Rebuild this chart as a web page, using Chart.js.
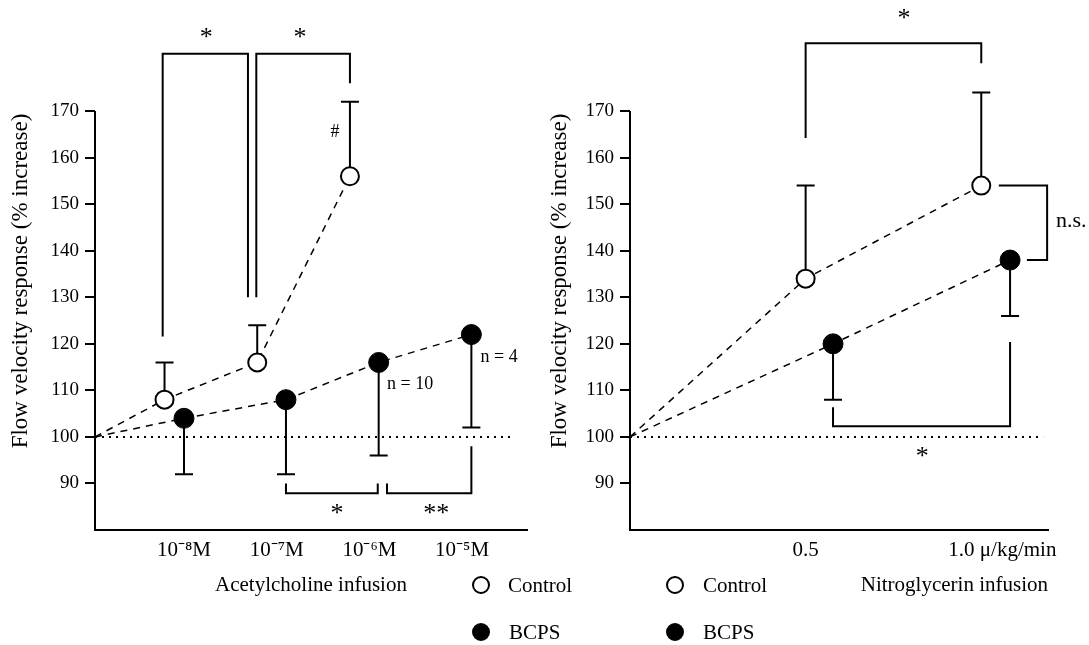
<!DOCTYPE html>
<html lang="en">
<head>
    <meta charset="UTF-8">
    <title>Flow velocity response</title>
    <script src="https://cdn.jsdelivr.net/npm/chart.js"></script>
    <style>
        body {
            margin: 0;
            background: #fff;
            font-family: 'Liberation Serif', 'Times New Roman', serif;
            color: #000;
        }
        .panel { position: absolute; top: 0; height: 645px; }
        #left-panel { left: 0; width: 540px; }
        #right-panel { left: 540px; width: 549px; }
        .key-dot {
            position: absolute;
            width: 18px;
            height: 18px;
            border-radius: 50%;
            box-sizing: border-box;
            border: 2px solid #000;
        }
        .key-dot.filled { background: #000; }
        .key-text {
            position: absolute;
            font-size: 21px;
            line-height: 21px;
            white-space: nowrap;
        }
    </style>
</head>
<body>
    <div class="panel" id="left-panel"><canvas id="achChart"></canvas></div>
    <div class="panel" id="right-panel"><canvas id="ntgChart"></canvas></div>

    <div class="key-dot" style="left:472px; top:576px;"></div>
    <div class="key-text" style="left:508px; top:575px;">Control</div>
    <div class="key-dot filled" style="left:472px; top:623px;"></div>
    <div class="key-text" style="left:509px; top:622px;">BCPS</div>

    <div class="key-dot" style="left:666px; top:576px;"></div>
    <div class="key-text" style="left:703px; top:575px;">Control</div>
    <div class="key-dot filled" style="left:666px; top:623px;"></div>
    <div class="key-text" style="left:703px; top:622px;">BCPS</div>

    <script>
        // ---- Acetylcholine panel ----
        const achTickPos = [1, 2, 3, 4];
        const achTickLabels = ['10\u207B\u2078M', '10\u207B\u2077M', '10\u207B\u2076M', '10\u207B\u2075M'];
        const achControlX = [0.04, 0.79, 1.79, 2.79];
        const achControlY = [100, 108, 116, 156];
        const achControlErr = [null, 116, 124, 172];
        const achBcpsX = [0.04, 1.0, 2.1, 3.1, 4.1];
        const achBcpsY = [100, 104, 108, 116, 122];
        const achBcpsErr = [null, 92, 92, 96, 102];
        const achBrackets = [
            [[0.77, 121.6], [0.77, 182.3], [1.69, 182.3], [1.69, 130]],
            [[1.78, 130], [1.78, 182.3], [2.79, 182.3], [2.79, 176]],
            [[2.1, 90], [2.1, 87.9], [3.09, 87.9], [3.09, 90]],
            [[3.19, 90], [3.19, 87.9], [4.1, 87.9], [4.1, 98]]
        ];
        const achNotes = [
            ['*', 1.24, 185.6], ['*', 2.25, 185.6], ['#', 2.63, 165.5],
            ['*', 2.65, 83.4], ['**', 3.72, 83.4],
            ['n = 10', 3.44, 111.4], ['n = 4', 4.4, 117.2]
        ];

        // ---- Nitroglycerin panel ----
        const ntgTickPos = [0.5, 1.06];
        const ntgTickLabels = ['0.5', '1.0 \u03BC/kg/min'];
        const ntgControlX = [0, 0.5, 1.0];
        const ntgControlY = [100, 134, 154];
        const ntgControlErr = [null, 154, 174];
        const ntgBcpsX = [0, 0.578, 1.082];
        const ntgBcpsY = [100, 120, 138];
        const ntgBcpsErr = [null, 108, 126];
        const ntgBrackets = [
            [[0.5, 164.2], [0.5, 184.6], [1.0, 184.6], [1.0, 180.3]],
            [[1.05, 154], [1.1875, 154], [1.1875, 138], [1.13, 138]],
            [[0.578, 106.4], [0.578, 102.3], [1.082, 102.3], [1.082, 120.4]]
        ];
        const ntgNotes = [['*', 0.78, 189.7], ['n.s.', 1.256, 146.3], ['*', 0.832, 95.7]];

        const yTicks = [90, 100, 110, 120, 130, 140, 150, 160, 170];
        const serif = "'Liberation Serif', 'Times New Roman', serif";
        const noteSize = { '*': 26, '**': 26, '#': 18, 'n.s.': 22 };

        const toPts = (xs, ys) => xs.map((x, i) => ({ x: x, y: ys[i] }));

        // error bars, axis line and text notes
        const extras = {
            id: 'extras',
            beforeDatasetsDraw(chart) {
                const { ctx, scales: { x, y }, chartArea } = chart;
                ctx.save();
                ctx.strokeStyle = '#000';
                ctx.lineWidth = 2;
                // y axis line, only over the labelled range
                ctx.beginPath();
                ctx.moveTo(chartArea.left, y.getPixelForValue(80));
                ctx.lineTo(chartArea.left, y.getPixelForValue(170));
                ctx.stroke();
                chart.data.datasets.forEach(ds => {
                    if (!ds.errTo) return;
                    ds.data.forEach((pt, i) => {
                        const e = ds.errTo[i];
                        if (e == null) return;
                        const px = x.getPixelForValue(pt.x);
                        const py = y.getPixelForValue(pt.y);
                        const pe = y.getPixelForValue(e);
                        ctx.beginPath();
                        ctx.moveTo(px, py);
                        ctx.lineTo(px, pe);
                        ctx.moveTo(px - 9, pe);
                        ctx.lineTo(px + 9, pe);
                        ctx.stroke();
                    });
                });
                ctx.restore();
            },
            afterDatasetsDraw(chart, args, opts) {
                const { ctx, scales: { x, y } } = chart;
                ctx.save();
                ctx.fillStyle = '#000';
                ctx.textAlign = 'center';
                ctx.textBaseline = 'middle';
                (opts.notes || []).forEach(([t, vx, vy]) => {
                    ctx.font = (noteSize[t] || 18) + 'px ' + serif;
                    ctx.fillText(t, x.getPixelForValue(vx), y.getPixelForValue(vy));
                });
                ctx.restore();
            }
        };

        function buildChart(id, p) {
            const datasets = [
                {
                    data: toPts(p.cX, p.cY), errTo: p.cErr,
                    borderColor: '#000', borderWidth: 1.5, borderDash: [7, 6],
                    pointRadius: p.cX.map((v, i) => i === 0 ? 0 : 9),
                    pointBackgroundColor: '#fff', pointBorderColor: '#000', pointBorderWidth: 2
                },
                {
                    data: toPts(p.bX, p.bY), errTo: p.bErr,
                    borderColor: '#000', borderWidth: 1.5, borderDash: [7, 6],
                    pointRadius: p.bX.map((v, i) => i === 0 ? 0 : 10),
                    pointBackgroundColor: '#000', pointBorderColor: '#000', pointBorderWidth: 1
                }
            ];
            p.brackets.forEach(b => {
                datasets.push({
                    data: b.map(([bx, by]) => ({ x: bx, y: by })),
                    borderColor: '#000', borderWidth: 2, pointRadius: 0
                });
            });
            // reference line at 100 %
            datasets.push({
                data: [{ x: p.xMin, y: 100 }, { x: p.dotEnd, y: 100 }],
                borderColor: '#000', borderWidth: 2, borderDash: [2, 5], pointRadius: 0
            });
            datasets.forEach(d => { d.clip = false; d.tension = 0; d.fill = false; });

            return new Chart(document.getElementById(id), {
                type: 'line',
                data: { datasets },
                options: {
                    responsive: true,
                    maintainAspectRatio: false,
                    animation: false,
                    layout: { padding: { top: 32, right: p.padRight, left: 0, bottom: 0 } },
                    plugins: {
                        legend: { display: false },
                        tooltip: { enabled: false },
                        extras: { notes: p.notes }
                    },
                    scales: {
                        x: {
                            type: 'linear',
                            min: p.xMin,
                            max: p.xMax,
                            afterBuildTicks: s => { s.ticks = p.tickPos.map(v => ({ value: v })); },
                            afterFit: s => { s.height = 115; },
                            ticks: {
                                callback: (v, i) => p.tickLabels[i],
                                font: { family: serif, size: 21 },
                                color: '#000', padding: 8, maxRotation: 0, autoSkip: false
                            },
                            grid: { display: false, drawTicks: false },
                            border: { display: true, color: '#000', width: 2 },
                            title: {
                                display: true, text: p.xTitle, align: p.xAlign, color: '#000',
                                font: { family: serif, size: 21 },
                                padding: { top: 4, bottom: 47 }
                            }
                        },
                        y: {
                            min: 80,
                            max: 187,
                            afterBuildTicks: s => { s.ticks = yTicks.map(v => ({ value: v })); },
                            afterFit: s => { s.width = p.yWidth; },
                            ticks: { font: { family: serif, size: 19 }, color: '#000', padding: 6 },
                            grid: { drawOnChartArea: false, drawTicks: true, tickLength: 10, color: '#000', lineWidth: 2 },
                            border: { display: false },
                            title: {
                                display: true, text: 'Flow velocity response (% increase)', color: '#000',
                                font: { family: serif, size: 23 },
                                padding: { top: p.yTitlePad, bottom: 0 }
                            }
                        }
                    }
                },
                plugins: [extras]
            });
        }

        buildChart('achChart', {
            cX: achControlX, cY: achControlY, cErr: achControlErr,
            bX: achBcpsX, bY: achBcpsY, bErr: achBcpsErr,
            brackets: achBrackets, notes: achNotes,
            tickPos: achTickPos, tickLabels: achTickLabels,
            xMin: 0.04, xMax: 4.7, dotEnd: 4.55,
            xTitle: 'Acetylcholine infusion', xAlign: 'center',
            yWidth: 95, yTitlePad: 7, padRight: 13
        });

        buildChart('ntgChart', {
            cX: ntgControlX, cY: ntgControlY, cErr: ntgControlErr,
            bX: ntgBcpsX, bY: ntgBcpsY, bErr: ntgBcpsErr,
            brackets: ntgBrackets, notes: ntgNotes,
            tickPos: ntgTickPos, tickLabels: ntgTickLabels,
            xMin: 0, xMax: 1.19, dotEnd: 1.176,
            xTitle: 'Nitroglycerin infusion', xAlign: 'end',
            yWidth: 90, yTitlePad: 6, padRight: 41
        });
    </script>
</body>
</html>
